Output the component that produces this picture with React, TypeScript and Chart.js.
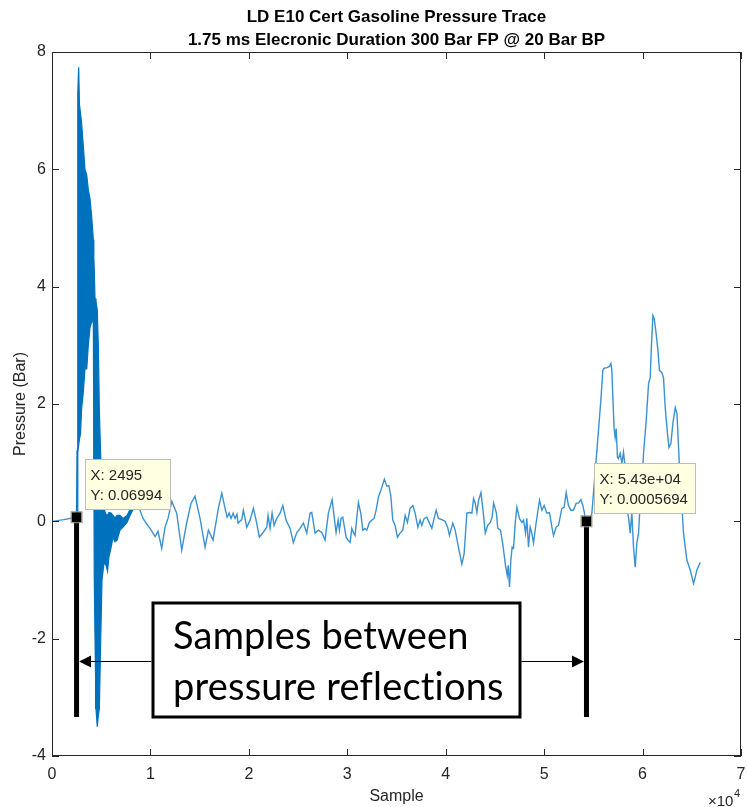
import React, { useEffect, useRef } from "react";
import { Chart, registerables } from "chart.js";

Chart.register(...registerables);

const titleLines = ["LD E10 Cert Gasoline Pressure Trace", "1.75 ms Elecronic Duration 300 Bar FP @ 20 Bar BP"];
const xAxisTitle = "Sample";
const yAxisTitle = "Pressure (Bar)";
const xMin = 0;
const xMax = 70000;
const xStep = 10000;
const xExponentBase = "\u00d710";
const xExponent = "4";
const yMin = -4;
const yMax = 8;
const yStep = 2;

// flat trace before the injection event
const preSample = [0, 1200, 2495];
const prePressure = [0.0, 0.03, 0.07];

// dense high-frequency region (envelope of the oscillation)
const bandSample = [2495, 2540, 2620, 2710, 2790, 2900, 3000, 3180, 3350, 3530, 3690, 3860, 4030, 4200, 4250, 4290, 4370, 4470, 4600, 4710, 4810, 4950, 5080, 5290, 5490, 5640, 5790, 6000, 6200, 6400, 6610, 6910, 7220, 7620, 7930, 8230];
const bandUpper = [0.07, 1.2, 7.3, 7.74, 7.1, 6.95, 6.8, 6.4, 6.0, 5.9, 5.65, 5.5, 5.2, 4.8, 4.5, 4.3, 3.8, 3.75, 3.6, 2.97, 1.9, 1.1, 0.5, 0.2, 0.12, 0.1, 0.15, 0.14, 0.1, 0.06, 0.1, 0.1, 0.05, 0.1, 0.2, 0.22];
const bandLower = [0.07, 0.07, 1.2, 1.3, 1.4, 1.5, 1.9, 2.2, 2.6, 2.6, 3.0, 3.3, 3.4, 3.4, 1.0, -0.9, -2.0, -3.2, -3.5, -3.3, -3.2, -2.0, -1.0, -0.7, -0.75, -0.85, -0.6, -0.45, -0.27, -0.35, -0.32, -0.15, -0.1, -0.02, 0.1, 0.2];

// remaining trace
const traceSample = [
  8230, 8610, 8940, 9250, 9650, 9960, 10470, 10770, 11150, 11480, 11790, 12170, 12670, 13180, 13690, 14130, 14530, 15040, 15550, 15890,
  16360, 16900, 17250, 17580, 17790, 17990, 18190, 18400, 18600, 18800, 18900, 19280, 19440, 19790, 20120, 20460, 20730, 21070, 21410, 21820,
  21950, 22150, 22360, 22560, 22840, 23170, 23450, 23780, 24190, 24520, 24870, 25200, 25540, 25880, 26220, 26390, 26730, 27060, 27410, 27740,
  28080, 28460, 28860, 29070, 29200, 29370, 29540, 29710, 29880, 30080, 30290, 30460, 30620, 30790, 30960, 31130, 31370, 31580, 31810, 31980,
  32250, 32490, 32720, 32930, 33160, 33410, 33770, 34020, 34220, 34420, 34620, 34860, 35090, 35370, 35640, 35880, 36110, 36380, 36660, 36890,
  37170, 37400, 37570, 37810, 38080, 38350, 38590, 38820, 39030, 39260, 39610, 39940, 40190, 40380, 40720, 40960, 41290, 41640, 41870, 42150,
  42420, 42660, 42830, 43000, 43170, 43340, 43580, 43790, 44020, 44260, 44530, 44710, 44870, 45150, 45290, 45570, 45840, 46070, 46250, 46350,
  46480, 46620, 46750, 46890, 47060, 47230, 47490, 47740, 47910, 48110, 48240, 48410, 48580, 48750, 48920, 49190, 49530, 49770, 50000, 50280,
  50540, 50790, 50950, 51220, 51460, 51800, 52030, 52240, 52470, 52710, 52980, 53260, 53490, 53730, 53930, 54100, 54200, 54370, 54610, 54850,
  55220, 55520, 55760, 55960, 56100, 56380, 56640, 56780, 56880, 56980, 57110, 57210, 57320, 57450, 57550, 57730, 57900, 58060, 58230, 58400,
  58610, 58740, 58910, 59080, 59250, 59420, 59590, 59760, 59930, 60100, 60370, 60610, 60780, 60880, 61050, 61180, 61380, 61560, 61720, 61960,
  62130, 62300, 62530, 62680, 62880, 63080, 63320, 63490, 63590, 63750, 64000, 64160, 64500, 64840, 65180, 65350, 65520, 65860
];
const tracePressure = [
  0.22, 0.31, 0.19, 0.05, -0.05, -0.12, -0.26, -0.17, -0.46, -0.10, 0.05, 0.34, 0.14, -0.49, -0.02, 0.31, 0.43, 0.05, -0.44, -0.15,
  -0.32, 0.22, 0.48, 0.22, 0.07, 0.14, 0.05, 0.14, 0.05, 0.12, -0.03, 0.03, 0.19, -0.10, 0.02, 0.22, 0.02, -0.27, -0.20, -0.10,
  0.10, -0.12, 0.14, -0.07, 0.05, 0.14, 0.27, 0.02, -0.12, -0.36, -0.19, -0.12, -0.03, -0.20, 0.14, 0.15, -0.20, -0.15, -0.19, -0.32,
  0.14, 0.37, -0.19, 0.02, -0.15, 0.05, 0.07, -0.10, -0.27, -0.32, -0.36, -0.12, -0.19, -0.24, 0.05, 0.32, 0.14, -0.15, -0.12, -0.15,
  -0.02, 0.02, 0.05, 0.19, 0.41, 0.53, 0.72, 0.60, 0.61, 0.44, 0.02, -0.07, -0.27, -0.20, -0.15, 0.10, -0.02, 0.22, 0.27, 0.14,
  -0.10, 0.02, -0.07, 0.05, 0.07, -0.03, -0.12, 0.05, 0.19, 0.05, 0.03, 0.00, -0.10, -0.24, -0.03, -0.15, -0.44, -0.73, -0.55, 0.14,
  0.15, 0.14, 0.39, 0.31, 0.15, 0.36, 0.49, 0.19, -0.20, -0.07, -0.02, 0.07, 0.31, 0.14, -0.12, -0.15, -0.44, -0.75, -0.92, -0.75,
  -1.12, -0.66, -0.44, -0.46, -0.03, 0.24, 0.05, -0.02, 0.02, -0.20, 0.05, -0.44, -0.10, -0.20, -0.37, -0.02, 0.36, 0.19, 0.27, 0.14,
  0.15, -0.10, -0.24, -0.10, -0.07, 0.22, 0.24, 0.49, 0.27, 0.19, 0.19, 0.31, 0.31, 0.37, 0.27, 0.14, -0.15, -0.10, 0.00, 0.14,
  0.92, 1.55, 2.06, 2.57, 2.61, 2.62, 2.64, 2.69, 2.57, 2.11, 1.58, 1.43, 1.58, 1.09, 1.07, 1.16, 0.99, 1.18, 0.92, 0.24,
  0.02, -0.20, 0.14, -0.44, -0.78, -0.37, -0.20, 0.31, 0.65, 1.16, 1.72, 2.35, 2.45, 2.91, 3.51, 3.46, 3.20, 2.91, 2.57, 2.54,
  2.44, 1.94, 1.50, 1.26, 1.33, 1.67, 1.94, 1.84, 1.50, 0.92, 0.24, -0.20, -0.66, -0.83, -1.06, -0.95, -0.83, -0.70
];

// data tips
const tipSample = [2495, 54300];
const tipPressure = [0.06994, 0.0005694];
const tipLines = [["X: 2495", "Y: 0.06994"], ["X: 5.43e+04", "Y: 0.0005694"]];

// callout
const calloutLines = ["Samples between", "pressure reflections"];

const lineBlue = "#0072BD";
const traceBlue = "#3b92d0";
const axisColor = "#262626";
const fontFamily = '"Liberation Sans", Arial, sans-serif';
const tickFont = { family: fontFamily, size: 16 };

function toPoints(xs: number[], ys: number[]) {
  return xs.map((v, i) => ({ x: v, y: ys[i] }));
}

const overlayPlugin = {
  id: "overlay",
  afterDatasetsDraw(chart: any) {
    const { ctx, chartArea: a, scales } = chart;
    const xs = scales.x;
    const ys = scales.y;
    ctx.save();

    // axes box
    ctx.strokeStyle = axisColor;
    ctx.lineWidth = 1;
    ctx.strokeRect(a.left + 0.5, a.top + 0.5, a.right - a.left - 1, a.bottom - a.top - 1);

    // inward ticks
    const tl = 7;
    ctx.beginPath();
    xs.ticks.forEach((t: any) => {
      const p = Math.round(xs.getPixelForValue(t.value)) + 0.5;
      ctx.moveTo(p, a.bottom);
      ctx.lineTo(p, a.bottom - tl);
      ctx.moveTo(p, a.top);
      ctx.lineTo(p, a.top + tl);
    });
    ys.ticks.forEach((t: any) => {
      const p = Math.round(ys.getPixelForValue(t.value)) + 0.5;
      ctx.moveTo(a.left, p);
      ctx.lineTo(a.left + tl, p);
      ctx.moveTo(a.right, p);
      ctx.lineTo(a.right - tl, p);
    });
    ctx.stroke();

    // title
    ctx.fillStyle = "#000";
    ctx.font = "bold 17px " + fontFamily;
    ctx.textAlign = "center";
    ctx.textBaseline = "middle";
    const cx = (a.left + a.right) / 2;
    ctx.fillText(titleLines[0], cx, 17);
    ctx.fillText(titleLines[1], cx, 40);

    // x10^4
    ctx.fillStyle = axisColor;
    ctx.textAlign = "left";
    ctx.textBaseline = "alphabetic";
    ctx.font = "15px " + fontFamily;
    ctx.fillText(xExponentBase, a.right - 33, 806);
    ctx.font = "11px " + fontFamily;
    ctx.fillText(xExponent, a.right - 7, 797);

    // annotation bars (under the markers)
    const markers = tipSample.map((s, i) => ({ x: xs.getPixelForValue(s), y: ys.getPixelForValue(tipPressure[i]) }));
    const barBottom = 717;
    ctx.fillStyle = "#000";
    markers.forEach((m) => {
      ctx.fillRect(m.x - 2.5, m.y + 4, 5, barBottom - (m.y + 4));
    });

    // data tip boxes and markers
    markers.forEach((m, i) => {
      const w = i === 0 ? 85 : 101;
      const h = 50;
      const bx = Math.round(m.x + 8) + 0.5;
      const by = Math.round(m.y - 8 - h) + 0.5;
      ctx.fillStyle = "#FFFFE1";
      ctx.strokeStyle = "#BDBDBD";
      ctx.lineWidth = 1;
      ctx.fillRect(bx, by, w, h);
      ctx.strokeRect(bx, by, w, h);
      ctx.fillStyle = "#262626";
      ctx.font = "15px " + fontFamily;
      ctx.textAlign = "left";
      ctx.textBaseline = "middle";
      ctx.fillText(tipLines[i][0], bx + 5, by + 16);
      ctx.fillText(tipLines[i][1], bx + 5, by + 36);

      ctx.fillStyle = "#000";
      ctx.strokeStyle = "#9a9a8a";
      ctx.fillRect(m.x - 5, m.y - 5, 10, 10);
      ctx.strokeRect(m.x - 5.5, m.y - 5.5, 11, 11);
    });

    // callout box
    const box = { l: 153, t: 603, r: 520, b: 717 };
    ctx.fillStyle = "#fff";
    ctx.fillRect(box.l, box.t, box.r - box.l, box.b - box.t);
    ctx.strokeStyle = "#000";
    ctx.lineWidth = 3;
    ctx.strokeRect(box.l, box.t, box.r - box.l, box.b - box.t);
    ctx.fillStyle = "#000";
    ctx.font = '38px Lato, "Open Sans", sans-serif';
    if ("letterSpacing" in ctx) (ctx as any).letterSpacing = "0.2px";
    ctx.textAlign = "left";
    ctx.textBaseline = "middle";
    ctx.fillText(calloutLines[0], 173, 637);
    ctx.fillText(calloutLines[1], 173, 688);
    if ("letterSpacing" in ctx) (ctx as any).letterSpacing = "0px";

    // arrows
    const ay = 661.5;
    ctx.lineWidth = 1;
    ctx.strokeStyle = "#000";
    const leftTip = markers[0].x + 2.5;
    const rightTip = markers[1].x - 2.5;
    ctx.beginPath();
    ctx.moveTo(box.l - 1.5, ay);
    ctx.lineTo(leftTip + 10, ay);
    ctx.moveTo(box.r + 1.5, ay);
    ctx.lineTo(rightTip - 10, ay);
    ctx.stroke();
    ctx.beginPath();
    ctx.moveTo(leftTip, ay);
    ctx.lineTo(leftTip + 12, ay - 6);
    ctx.lineTo(leftTip + 12, ay + 6);
    ctx.closePath();
    ctx.moveTo(rightTip, ay);
    ctx.lineTo(rightTip - 12, ay - 6);
    ctx.lineTo(rightTip - 12, ay + 6);
    ctx.closePath();
    ctx.fill();

    ctx.restore();
  },
};

export default function App() {
  const canvasRef = useRef<HTMLCanvasElement | null>(null);

  useEffect(() => {
    const canvas = canvasRef.current;
    if (!canvas) return;
    const chart = new Chart(canvas, {
      type: "line",
      data: {
        datasets: [
          {
            data: toPoints(preSample, prePressure),
            borderColor: traceBlue,
            borderWidth: 1.4,
            pointRadius: 0,
            fill: false,
          },
          {
            data: toPoints(bandSample, bandUpper),
            borderColor: lineBlue,
            backgroundColor: lineBlue,
            borderWidth: 1.2,
            pointRadius: 0,
            fill: "+1",
          },
          {
            data: toPoints(bandSample, bandLower),
            borderColor: lineBlue,
            borderWidth: 1.2,
            pointRadius: 0,
            fill: false,
          },
          {
            data: toPoints(traceSample, tracePressure),
            borderColor: traceBlue,
            borderWidth: 1.4,
            pointRadius: 0,
            fill: false,
          },
        ],
      },
      options: {
        responsive: false,
        animation: false,
        devicePixelRatio: 1,
        layout: { padding: { top: 52, right: 6, left: 0, bottom: 0 } },
        plugins: {
          legend: { display: false },
          title: { display: false },
          tooltip: { enabled: false },
        },
        scales: {
          x: {
            type: "linear",
            min: xMin,
            max: xMax,
            border: { display: false },
            grid: { display: false, drawTicks: false },
            ticks: {
              stepSize: xStep,
              autoSkip: false,
              maxRotation: 0,
              padding: 9,
              color: axisColor,
              font: tickFont,
              callback: (v: any) => String(Number(v) / 10000),
            },
            title: {
              display: true,
              text: xAxisTitle,
              color: axisColor,
              font: tickFont,
              padding: { top: 0, bottom: 1 },
            },
            afterFit: (s: any) => {
              s.height = 51;
              s.paddingLeft = 0;
              s.paddingRight = 0;
            },
          },
          y: {
            type: "linear",
            min: yMin,
            max: yMax,
            border: { display: false },
            grid: { display: false, drawTicks: false },
            ticks: {
              stepSize: yStep,
              padding: 6,
              color: axisColor,
              font: tickFont,
            },
            title: {
              display: true,
              text: yAxisTitle,
              color: axisColor,
              font: tickFont,
              padding: { top: 11, bottom: 0 },
            },
            afterFit: (s: any) => {
              s.width = 52;
              s.paddingTop = 0;
              s.paddingBottom = 0;
            },
          },
        },
      },
      plugins: [overlayPlugin],
    });
    return () => chart.destroy();
  }, []);

  return (
    <div style={{ position: "absolute", left: 0, top: 0, width: 747, height: 807, background: "#fff" }}>
      <canvas ref={canvasRef} width={747} height={807} style={{ display: "block" }} />
    </div>
  );
}
